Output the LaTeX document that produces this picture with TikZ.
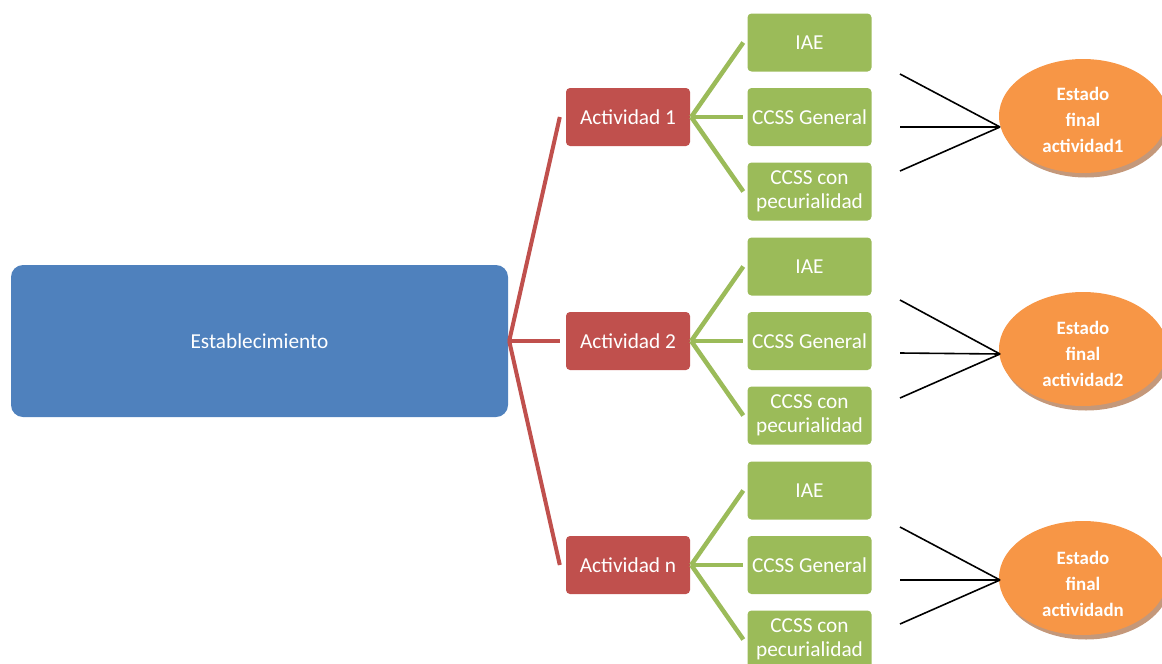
\documentclass[tikz,border=0pt]{standalone}
\usepackage{fontspec}
\setmainfont{Carlito}
\usetikzlibrary{shapes.geometric,shadows}
\definecolor{estblue}{HTML}{4F81BD}
\definecolor{actred}{HTML}{C0504D}
\definecolor{subgreen}{HTML}{9BBB59}
\definecolor{finorange}{HTML}{F79646}
\definecolor{shadowtan}{RGB}{196,152,122}
\begin{document}
\begin{tikzpicture}[x=1pt,y=-1pt,
  est/.style={fill=estblue, rounded corners=12pt, minimum width=497pt, minimum height=152pt,
    inner sep=0pt, text=white, font=\fontsize{21.3}{24}\selectfont},
  actbox/.style={fill=actred, rounded corners=4pt, minimum width=124pt, minimum height=58pt,
    inner sep=0pt, text=white, font=\fontsize{21.3}{24}\selectfont},
  subbox/.style={fill=subgreen, rounded corners=4pt, minimum width=124pt, minimum height=58pt,
    inner sep=0pt, align=center, text=white, font=\fontsize{21.3}{24}\selectfont},
  fin/.style={ellipse, fill=finorange, minimum width=168pt, minimum height=114pt, inner sep=0pt,
    drop shadow={shadow xshift=3pt, shadow yshift=-4.5pt, fill=shadowtan, opacity=1}},
  fintext/.style={align=center, text=white, inner sep=0pt, font=\bfseries\fontsize{18.9}{26}\selectfont},
  redline/.style={draw=actred, line width=4pt},
  greenline/.style={draw=subgreen, line width=4.5pt},
  blackline/.style={draw=black, line width=1.6pt}]
\useasboundingbox (0,0) rectangle (1162,664);
\clip (0,0) rectangle (1162,664);

\node[est] (est) at (259.5,341) {Establecimiento};

% activities
\node[actbox] (a1) at (628,117) {Actividad 1};
\node[actbox] (a2) at (628,341) {Actividad 2};
\node[actbox] (a3) at (628,565) {Actividad n};

% sub boxes
\foreach \k/\y in {1/117,2/341,3/565}{
  \node[subbox] (g\k a) at (809.5,\y-74.5) {IAE};
  \node[subbox] (g\k b) at (809.5,\y) {CCSS General};
  \node[subbox] (g\k c) at (809.5,\y+74.5) {CCSS con\\pecurialidad};
}

% red connectors
\coordinate (rj) at ([xshift=1pt]est.east);
\foreach \k in {1,2,3}{
  \draw[redline] (rj) -- ([xshift=-6pt]a\k.west);
}

% green connectors
\foreach \k in {1,2,3}{
  \foreach \s in {a,b,c}{
    \draw[greenline] ([xshift=1pt]a\k.east) -- ([xshift=-4pt]g\k\s.west);
  }
}

% final state ellipses
\node[fin, label={[fintext, yshift=-4pt]center:{Estado\\final\\actividad1}}] (e1) at (1083,116) {};
\node[fin, label={[fintext, yshift=-5pt]center:{Estado\\final\\actividad2}}] (e2) at (1083,349) {};
\node[fin, label={[fintext, yshift=-6pt]center:{Estado\\final\\actividadn}}] (e3) at (1083,578) {};

% black converging lines
\coordinate (c1) at (1000,127);
\coordinate (c2) at (1000,354);
\coordinate (c3) at (1000,580);
\coordinate (s1a) at (900,74);  \coordinate (s1b) at (900,127); \coordinate (s1c) at (900,171);
\coordinate (s2a) at (900,300); \coordinate (s2b) at (900,353); \coordinate (s2c) at (900,398);
\coordinate (s3a) at (900,527); \coordinate (s3b) at (900,580); \coordinate (s3c) at (900,624);
\foreach \k in {1,2,3}{
  \foreach \s in {a,b,c}{
    \draw[blackline] (s\k\s) -- (c\k);
  }
}
\end{tikzpicture}
\end{document}
